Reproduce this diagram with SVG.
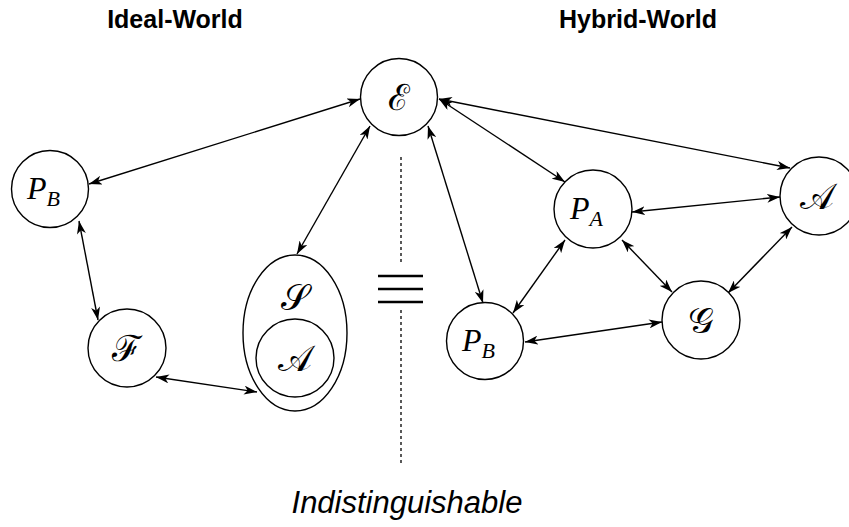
<svg xmlns="http://www.w3.org/2000/svg" width="849" height="527" viewBox="0 0 849 527">
<style>
.n{fill:#fff;stroke:#000;stroke-width:1.4}
.c{stroke:#000;stroke-width:1.4;fill:none;marker-start:url(#ah);marker-end:url(#ah)}
.s{font-family:"DejaVu Serif","Liberation Serif",serif;font-size:36px;text-anchor:middle;fill:#000}
.p{font-family:"Liberation Serif",serif;font-style:italic;font-size:32px;fill:#000}
.sub{font-size:22px}
.t{font-family:"Liberation Sans",Arial,sans-serif;font-weight:bold;font-size:25px;text-anchor:middle;fill:#000}
</style>
<defs>
<marker id="ah" viewBox="0 0 13 9" refX="13" refY="4.5" markerWidth="13" markerHeight="9" markerUnits="userSpaceOnUse" orient="auto-start-reverse">
<path d="M0,0 L13,4.5 L0,9 L3.5,4.5 Z" fill="#000"/>
</marker>
</defs>
<text class="t" x="175" y="28">Ideal-World</text>
<text class="t" x="638" y="28">Hybrid-World</text>
<g id="divider">
<line x1="401" y1="157" x2="401" y2="264" stroke="#000" stroke-width="1.3" stroke-dasharray="3,3"/>
<line x1="401" y1="310" x2="401" y2="464" stroke="#000" stroke-width="1.3" stroke-dasharray="3,3"/>
<line x1="378" y1="276" x2="423" y2="276" stroke="#000" stroke-width="2.5"/>
<line x1="378" y1="289" x2="423" y2="289" stroke="#000" stroke-width="2.5"/>
<line x1="378" y1="302" x2="423" y2="302" stroke="#000" stroke-width="2.5"/>
</g>
<text x="407" y="513" font-family="Liberation Sans,Arial,sans-serif" font-style="italic" font-size="31" text-anchor="middle">Indistinguishable</text>
<g id="connectors">
<line class="c" x1="360" y1="99" x2="89" y2="184"/>
<line class="c" x1="370" y1="126" x2="297" y2="254"/>
<line class="c" x1="428" y1="126" x2="483" y2="303"/>
<line class="c" x1="439" y1="99" x2="565" y2="182"/>
<line class="c" x1="439" y1="99" x2="790" y2="168"/>
<line class="c" x1="632" y1="212" x2="780" y2="197"/>
<line class="c" x1="565" y1="240" x2="513" y2="313"/>
<line class="c" x1="622" y1="240" x2="672" y2="292"/>
<line class="c" x1="792" y1="227" x2="728" y2="293"/>
<line class="c" x1="662" y1="322" x2="525" y2="342"/>
<line class="c" x1="79" y1="221" x2="98" y2="320"/>
<line class="c" x1="156" y1="377" x2="257" y2="392"/>
</g>
<g id="E"><circle class="n" cx="399" cy="97" r="38.5"/><text class="s" x="399" y="110">ℰ</text></g>
<g id="PB1"><circle class="n" cx="50" cy="189" r="38.5"/><text class="p" x="27" y="199">P<tspan class="sub" dy="7">B</tspan></text></g>
<g id="F"><circle class="n" cx="127" cy="348" r="39"/><text class="s" x="127" y="361">ℱ</text></g>
<g id="S"><ellipse class="n" cx="295" cy="333" rx="52" ry="78"/><text class="s" x="295" y="310">𝒮</text>
<g id="A1"><circle class="n" cx="295" cy="358" r="39"/><text class="s" x="295" y="371">𝒜</text></g></g>
<g id="PA"><circle class="n" cx="593" cy="209" r="39"/><text class="p" x="570" y="219">P<tspan class="sub" dy="7">A</tspan></text></g>
<g id="A2"><circle class="n" cx="819" cy="196" r="39"/><text class="s" x="817" y="209">𝒜</text></g>
<g id="G"><circle class="n" cx="701" cy="320" r="39"/><text class="s" x="701" y="333">𝒢</text></g>
<g id="PB2"><circle class="n" cx="485" cy="341" r="38.5"/><text class="p" x="462" y="351">P<tspan class="sub" dy="7">B</tspan></text></g>
</svg>
